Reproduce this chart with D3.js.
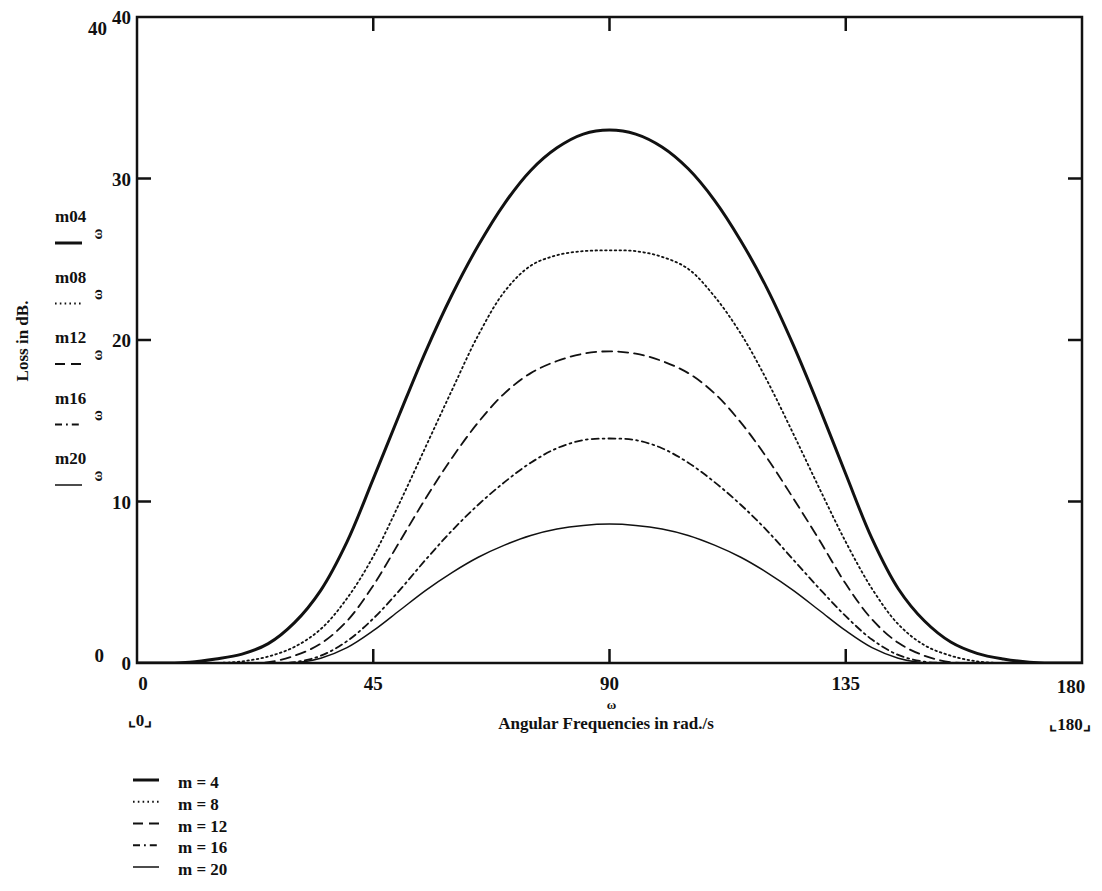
<!DOCTYPE html>
<html>
<head>
<meta charset="utf-8">
<script src="https://cdn.jsdelivr.net/npm/d3@7"></script>
<style>
  html, body { margin: 0; padding: 0; background: #fff; }
  svg { display: block; }
  text { font-family: "Liberation Serif", "Times New Roman", serif; font-weight: bold; fill: #111; }
</style>
</head>
<body>
<svg id="chart" width="1102" height="891"></svg>
<script>
// Angular frequency samples (rad/s) and loss curves (dB) for each m
const omega = [0, 5, 10, 15, 20, 25, 30, 35, 40, 45, 50, 55, 60, 65, 70, 75, 80, 85, 90,
               95, 100, 105, 110, 115, 120, 125, 130, 135, 140, 145, 150, 155, 160, 165, 170, 175, 180];

const m04 = [0, 0, 0.05, 0.25, 0.55, 1.2, 2.5, 4.5, 7.5, 11.4, 15.4, 19.3, 22.8, 25.85, 28.45, 30.5, 31.9, 32.75, 33.0,
             32.75, 31.95, 30.6, 28.65, 26.15, 23.2, 19.7, 15.8, 11.7, 7.7, 4.6, 2.6, 1.3, 0.6, 0.25, 0.05, 0, 0];
const m08 = [0, 0, 0, 0, 0.1, 0.4, 1.0, 2.1, 4.0, 6.6, 9.9, 13.4, 16.9, 20.3, 23.0, 24.6, 25.25, 25.5, 25.55,
             25.5, 25.15, 24.4, 22.7, 20.4, 17.5, 14.2, 10.8, 7.5, 4.6, 2.4, 1.1, 0.45, 0.1, 0, 0, 0, 0];
const m12 = [0, 0, 0, 0, 0, 0.05, 0.45, 1.2, 2.6, 4.8, 7.5, 10.2, 12.7, 14.9, 16.7, 17.95, 18.7, 19.15, 19.3,
             19.15, 18.7, 17.95, 16.7, 14.9, 12.7, 10.2, 7.6, 4.9, 2.7, 1.25, 0.45, 0.05, 0, 0, 0, 0, 0];
const m16 = [0, 0, 0, 0, 0, 0, 0.05, 0.45, 1.35, 2.75, 4.5, 6.4, 8.2, 9.8, 11.2, 12.4, 13.3, 13.8, 13.9,
             13.8, 13.3, 12.4, 11.2, 9.8, 8.2, 6.4, 4.6, 2.9, 1.45, 0.5, 0.08, 0, 0, 0, 0, 0, 0];
const m20 = [0, 0, 0, 0, 0, 0, 0, 0.3, 0.95, 2.0, 3.25, 4.5, 5.6, 6.55, 7.3, 7.9, 8.3, 8.52, 8.6,
             8.52, 8.3, 7.9, 7.3, 6.55, 5.6, 4.5, 3.25, 2.0, 0.95, 0.3, 0, 0, 0, 0, 0, 0, 0];

const seriesNames = ["m04", "m08", "m12", "m16", "m20"];
const legendLabels = ["m = 4", "m = 8", "m = 12", "m = 16", "m = 20"];
const xTicks = [0, 45, 90, 135, 180];
const yTicks = [0, 10, 20, 30, 40];

// Line style per curve: width and dash pattern
const styles = [
  { w: 3.0, dash: null },
  { w: 1.8, dash: "1.6,3.2" },
  { w: 1.8, dash: "10,6" },
  { w: 1.8, dash: "7,4,1.8,4" },
  { w: 1.5, dash: null }
];

const values = [m04, m08, m12, m16, m20];

const svg = d3.select("#chart");
const plotLeft = 137, plotRight = 1082, plotTop = 17, plotBottom = 663;

const x = d3.scaleLinear().domain([0, 180]).range([plotLeft, plotRight]);
const y = d3.scaleLinear().domain([0, 40]).range([plotBottom, plotTop]);

svg.append("defs").append("clipPath").attr("id", "plot-area")
  .append("rect")
  .attr("x", plotLeft).attr("y", plotTop)
  .attr("width", plotRight - plotLeft).attr("height", plotBottom - plotTop);

// Curves
const line = d3.line()
  .x((d, i) => x(omega[i]))
  .y(d => y(d))
  .curve(d3.curveCatmullRom.alpha(0.5));

const plot = svg.append("g").attr("clip-path", "url(#plot-area)");
values.forEach((vals, k) => {
  plot.append("path")
    .datum(vals)
    .attr("d", line)
    .attr("fill", "none")
    .attr("stroke", "#111")
    .attr("stroke-width", styles[k].w)
    .attr("stroke-dasharray", styles[k].dash)
    .attr("stroke-linejoin", "round")
    .attr("stroke-linecap", "round");
});

// Frame
svg.append("rect")
  .attr("x", plotLeft).attr("y", plotTop)
  .attr("width", plotRight - plotLeft).attr("height", plotBottom - plotTop)
  .attr("fill", "none").attr("stroke", "#111").attr("stroke-width", 2.5);

// Inner ticks on all four sides
const tickLen = 14;
const innerX = xTicks.slice(1, -1);
const innerY = yTicks.slice(1, -1);
const axes = svg.append("g").attr("stroke", "#111").attr("stroke-width", 2.5);
innerX.forEach(t => {
  axes.append("line").attr("x1", x(t)).attr("x2", x(t)).attr("y1", plotBottom).attr("y2", plotBottom - tickLen);
  axes.append("line").attr("x1", x(t)).attr("x2", x(t)).attr("y1", plotTop).attr("y2", plotTop + tickLen);
});
innerY.forEach(t => {
  axes.append("line").attr("x1", plotLeft).attr("x2", plotLeft + tickLen).attr("y1", y(t)).attr("y2", y(t));
  axes.append("line").attr("x1", plotRight).attr("x2", plotRight - tickLen).attr("y1", y(t)).attr("y2", y(t));
});

// Y tick labels
svg.append("g").selectAll("text").data(yTicks).join("text")
  .attr("x", plotLeft - 6)
  .attr("y", d => y(d) + 7)
  .attr("text-anchor", "end")
  .attr("font-size", 19)
  .text(d => d);

// Y range limit labels
svg.append("text").attr("x", 107).attr("y", 35).attr("text-anchor", "end").attr("font-size", 19).text(yTicks[yTicks.length - 1]);
svg.append("text").attr("x", 104).attr("y", y(0) - 1).attr("text-anchor", "end").attr("font-size", 19).text(yTicks[0]);

// X tick labels
svg.append("g").selectAll("text").data(xTicks).join("text")
  .attr("x", d => x(d) + (d === 0 ? 6 : d === 180 ? -11 : 0))
  .attr("y", d => d === 180 ? 693 : 690)
  .attr("text-anchor", "middle")
  .attr("font-size", 19)
  .text(d => d);

// X range limit labels
svg.append("text").attr("x", 140).attr("y", 726).attr("text-anchor", "middle").attr("font-size", 17)
  .text("\u231E" + xTicks[0] + "\u231F");
svg.append("text").attr("x", 1070).attr("y", 730).attr("text-anchor", "middle").attr("font-size", 17)
  .text("\u231E" + xTicks[xTicks.length - 1] + "\u231F");

// X axis titles
svg.append("text").attr("x", x(90) + 2).attr("y", 709).attr("text-anchor", "middle").attr("font-size", 13).text("\u03C9");
svg.append("text").attr("x", 606).attr("y", 729).attr("text-anchor", "middle").attr("font-size", 17)
  .attr("font-weight", "normal").text("Angular Frequencies in rad./s");

// Y axis title
svg.append("text")
  .attr("transform", "translate(28,341) rotate(-90)")
  .attr("text-anchor", "middle").attr("font-size", 17).attr("font-weight", "normal")
  .text("Loss in dB.");

// Trace names with line samples beside the y axis
const names = svg.append("g");
seriesNames.forEach((n, k) => {
  const by = 222 + k * 60.5;
  names.append("text").attr("x", 55).attr("y", by).attr("font-size", 17).text(n);
  names.append("text")
    .attr("transform", `translate(102,${by + 12}) rotate(-90)`)
    .attr("text-anchor", "middle").attr("font-size", 15).text("\u03C9");
  names.append("line")
    .attr("x1", 55).attr("x2", 82).attr("y1", by + 21).attr("y2", by + 21)
    .attr("stroke", "#111").attr("stroke-width", styles[k].w)
    .attr("stroke-dasharray", styles[k].dash);
});

// Legend below the plot
const legend = svg.append("g");
legendLabels.forEach((lab, k) => {
  const ly = 788 + k * 21.75;
  legend.append("line")
    .attr("x1", 133).attr("x2", 159).attr("y1", ly - 8).attr("y2", ly - 8)
    .attr("stroke", "#111").attr("stroke-width", styles[k].w)
    .attr("stroke-dasharray", styles[k].dash);
  legend.append("text").attr("x", 178).attr("y", ly).attr("font-size", 17).text(lab);
});
</script>
</body>
</html>
